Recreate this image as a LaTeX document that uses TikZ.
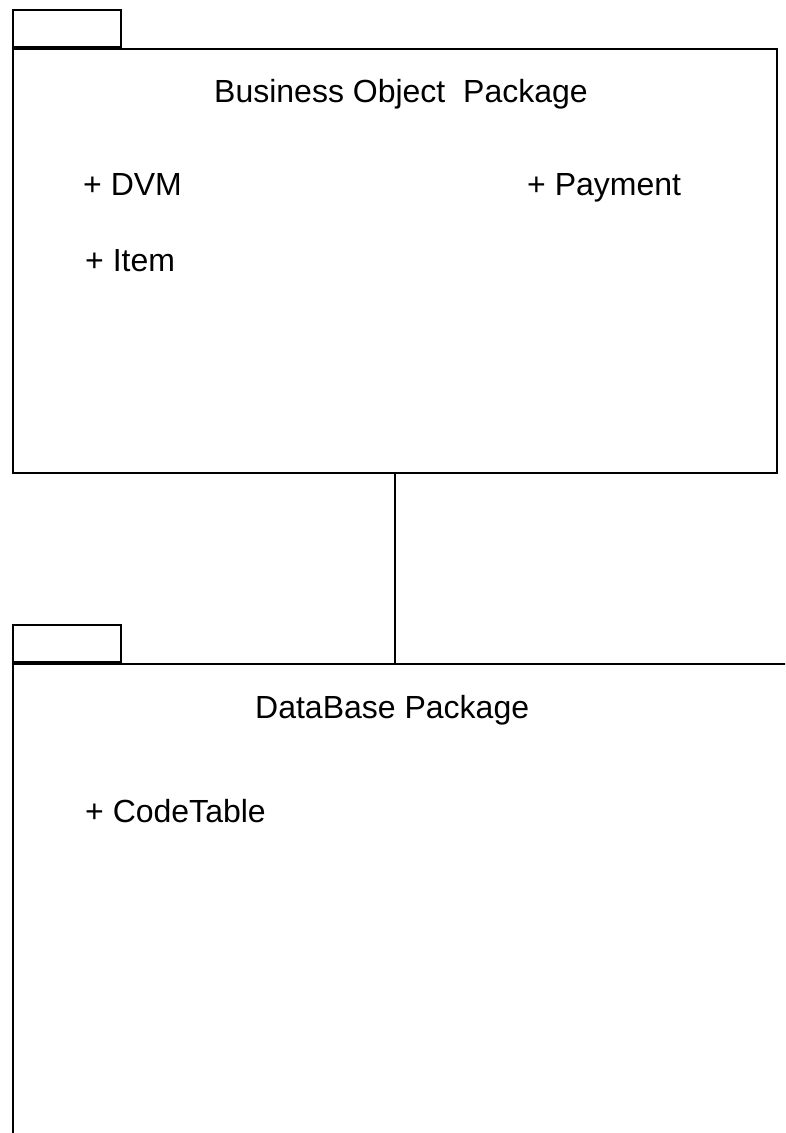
\documentclass[tikz,border=0pt]{standalone}
\usepackage{fontspec}
\setmainfont{Liberation Sans}
\usetikzlibrary{positioning}

\begin{document}
\begin{tikzpicture}[x=1pt,y=-1pt,
  pkg/.style={draw,line width=2pt,minimum width=764pt,minimum height=424pt,anchor=north west,inner sep=0pt},
  pkgtab/.style={draw,line width=2pt,minimum width=108pt,minimum height=37pt,anchor=south west,inner sep=0pt},
  lbl/.style={anchor=base west,inner sep=0pt,font=\fontsize{32}{38}\selectfont}]
 			\useasboundingbox (0,0) rectangle (785,1133);
 			\clip (0,0) rectangle (785,1133);
 			\node[pkg] (bo) at (11.5,47.5) {};
 			\node[pkgtab] (botab) at (bo.north west) {};
 			\node[pkg,minimum width=800pt,minimum height=520pt] (db) at (11.5,663) {};
 			\node[pkgtab] (dbtab) at (db.north west) {};
 			\node[lbl] (boname) at (214,102) {Business Object\ \ Package};
 			\node[lbl] (dvm) at (83,195) {+ DVM};
 			\node[lbl] (item) at (85,271) {+ Item};
 			\node[lbl] (payment) at (527,195) {+ Payment};
 			\node[lbl] (dbname) at (255,718) {DataBase Package};
 			\node[lbl] (codetable) at (85,822) {+ CodeTable};
 			\draw[line width=2pt] (bo.south) -- (bo.south |- db.north);
 		\end{tikzpicture}
\end{document}
